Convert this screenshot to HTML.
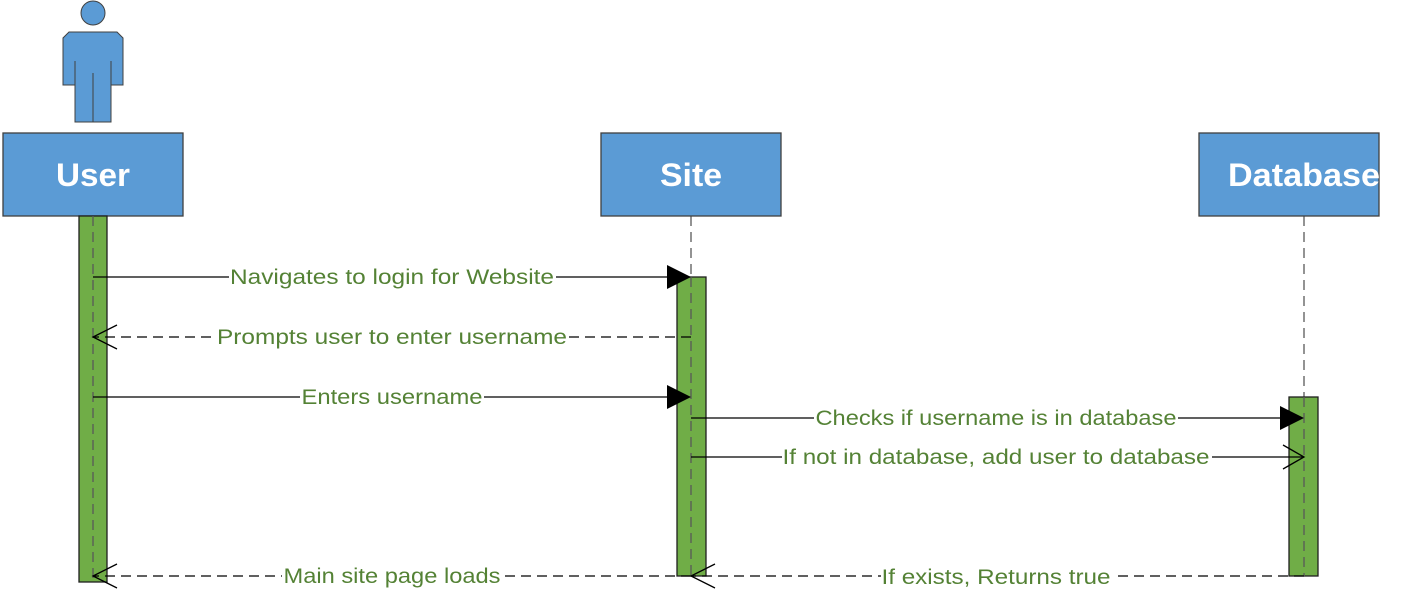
<!DOCTYPE html>
<html><head><meta charset="utf-8"><style>
html,body{margin:0;padding:0;background:#fff;width:1412px;height:607px;overflow:hidden}
text{font-family:"Liberation Sans",sans-serif}
.lbl{font-size:21px;fill:#548235}
.hd{font-size:32px;font-weight:bold;fill:#fff}
</style></head><body>
<svg width="1412" height="607" viewBox="0 0 1412 607" xmlns="http://www.w3.org/2000/svg">
<!-- actor -->
<circle cx="93" cy="13" r="12" fill="#5b9bd5" stroke="#404040" stroke-width="1"/>
<polygon points="69,32 117,32 123,38 123,85 111,85 111,122 75,122 75,85 63,85 63,38" fill="#5b9bd5" stroke="#404040" stroke-width="1"/>
<line x1="75" y1="61" x2="75" y2="85" stroke="#404040"/>
<line x1="111" y1="61" x2="111" y2="85" stroke="#404040"/>
<line x1="93" y1="73" x2="93" y2="122" stroke="#404040"/>
<!-- lifelines -->
<g stroke="#595959" stroke-width="1.3" stroke-dasharray="10,6">
<line x1="93" y1="216" x2="93" y2="582"/>
<line x1="691" y1="216" x2="691" y2="576"/>
<line x1="1304" y1="216" x2="1304" y2="576"/>
</g>
<!-- boxes -->
<g fill="#5b9bd5" stroke="#404040" stroke-width="1.3">
<rect x="3" y="133" width="180" height="83"/>
<rect x="601" y="133" width="180" height="83"/>
<rect x="1199" y="133" width="180" height="83"/>
</g>
<text class="hd" x="93" y="186" text-anchor="middle" textLength="74" lengthAdjust="spacingAndGlyphs">User</text>
<text class="hd" x="691" y="186" text-anchor="middle" textLength="62" lengthAdjust="spacingAndGlyphs">Site</text>
<text class="hd" x="1304" y="186" text-anchor="middle" textLength="152" lengthAdjust="spacingAndGlyphs">Database</text>
<!-- activations -->
<g fill="#70ad47" stroke="#1f1f1f" stroke-width="1.3">
<rect x="79" y="216" width="28" height="366"/>
<rect x="677" y="277" width="29" height="299"/>
<rect x="1289" y="397" width="29" height="179"/>
</g>
<g stroke="#595959" stroke-width="1.3" stroke-dasharray="10,6">
<line x1="93" y1="216" x2="93" y2="582"/>
<line x1="691" y1="277" x2="691" y2="576"/>
<line x1="1304" y1="397" x2="1304" y2="576"/>
</g>
<!-- messages -->
<g stroke="#000" stroke-width="1.3" fill="none">
<line x1="93" y1="277" x2="670" y2="277"/>
<line x1="691" y1="337" x2="93" y2="337" stroke-dasharray="10,6"/>
<line x1="93" y1="397" x2="670" y2="397"/>
<line x1="691" y1="418" x2="1283" y2="418"/>
<line x1="691" y1="457" x2="1304" y2="457"/>
<line x1="1304" y1="576" x2="691" y2="576" stroke-dasharray="10,6"/>
<line x1="691" y1="576" x2="93" y2="576" stroke-dasharray="10,6"/>
<polyline points="117,325 93,337 117,349"/>
<polyline points="1283,445 1304,457 1283,469"/>
<polyline points="715,564 691,576 715,588"/>
<polyline points="117,564 93,576 117,588"/>
</g>
<g fill="#000">
<polygon points="667,265 691,277 667,289"/>
<polygon points="667,385 691,397 667,409"/>
<polygon points="1280,406 1304,418 1280,430"/>
</g>
<!-- labels -->
<g class="lbl" text-anchor="middle">
<rect x="229" y="264" width="327" height="26" fill="#fff"/>
<text x="392" y="284" textLength="324" lengthAdjust="spacingAndGlyphs">Navigates to login for Website</text>
<rect x="216" y="324" width="353" height="26" fill="#fff"/>
<text x="392" y="344" textLength="350" lengthAdjust="spacingAndGlyphs">Prompts user to enter username</text>
<rect x="300" y="384" width="184" height="26" fill="#fff"/>
<text x="392" y="404" textLength="181" lengthAdjust="spacingAndGlyphs">Enters username</text>
<rect x="814" y="405" width="364" height="26" fill="#fff"/>
<text x="996" y="425" textLength="361" lengthAdjust="spacingAndGlyphs">Checks if username is in database</text>
<rect x="782" y="444" width="430" height="26" fill="#fff"/>
<text x="996" y="464" textLength="427" lengthAdjust="spacingAndGlyphs">If not in database, add user to database</text>
<rect x="881" y="564" width="232" height="26" fill="#fff"/>
<text x="996" y="584" textLength="229" lengthAdjust="spacingAndGlyphs">If exists, Returns true</text>
<rect x="282" y="563" width="220" height="26" fill="#fff"/>
<text x="392" y="583" textLength="217" lengthAdjust="spacingAndGlyphs">Main site page loads</text>
</g>
</svg>
</body></html>
